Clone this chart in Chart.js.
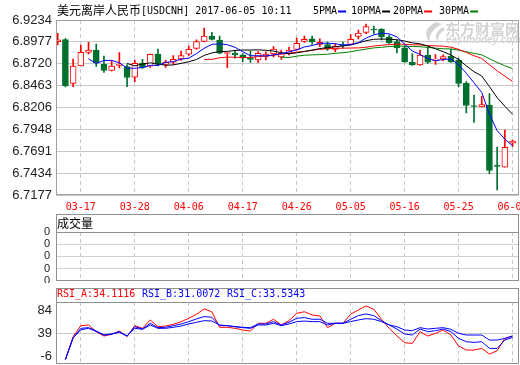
<!DOCTYPE html>
<html><head><meta charset="utf-8">
<script src="https://cdn.jsdelivr.net/npm/chart.js@4.4.1/dist/chart.umd.min.js"></script>
<style>
html,body{margin:0;padding:0;background:#fff;width:520px;height:365px;overflow:hidden}
canvas{position:absolute;left:0}
</style></head><body>
<canvas id="p" width="520" height="216" style="top:0"></canvas>
<canvas id="v" width="520" height="71" style="top:212px"></canvas>
<canvas id="r" width="520" height="81" style="top:284px"></canvas>
<script>
const dates = ['03-14','03-15','03-16','03-17','03-20','03-21','03-22','03-23','03-24','03-27','03-28','03-29','03-30','03-31',
'04-03','04-04','04-05','04-06','04-07','04-10','04-11','04-12','04-13','04-14','04-17','04-18','04-19','04-20','04-21','04-24','04-25','04-26','04-27','04-28',
'05-01','05-02','05-03','05-04','05-05','05-08','05-09','05-10','05-11','05-12','05-15','05-16','05-17','05-18','05-19','05-22','05-23','05-24','05-25','05-26','05-29','05-30','05-31',
'06-01','06-02','06-05'];
const open = [6.8979,6.9005,6.8490,6.8693,6.8854,6.8881,6.8713,6.8640,6.8699,6.8687,6.8561,6.8725,6.8690,6.8834,6.8713,6.8737,6.8776,6.8831,6.8901,6.8981,
6.9046,6.8999,6.8840,6.8846,6.8823,6.8787,6.8764,6.8805,6.8834,6.8799,6.8840,6.8887,6.8981,6.9014,6.8946,6.8946,6.8887,6.8946,6.8946,6.9040,
6.9087,6.9125,6.9125,6.9034,6.8979,6.8908,6.8737,6.8705,6.8823,6.8760,6.8776,6.8807,6.8764,6.8490,6.8229,6.8211,6.8235,6.7526,6.7503,6.7785];
const high = [6.9078,6.9015,6.8776,6.8940,6.8972,6.8952,6.8811,6.8756,6.8852,6.8711,6.8764,6.8772,6.8834,6.8893,6.8764,6.8817,6.8870,6.8931,6.9002,6.9140,
6.9089,6.9046,6.8850,6.8870,6.8840,6.8870,6.8864,6.8861,6.8923,6.8881,6.8917,6.9022,6.9046,6.9046,6.9014,6.8975,6.8958,6.8975,6.9064,6.9116,
6.9187,6.9163,6.9134,6.9058,6.8999,6.8934,6.8840,6.8881,6.8917,6.8829,6.8826,6.8893,6.8787,6.8511,6.8352,6.8341,6.8370,6.7741,6.7941,6.7824];
const low = [6.8940,6.8447,6.8450,6.8693,6.8834,6.8687,6.8619,6.8635,6.8670,6.8450,6.8509,6.8666,6.8678,6.8693,6.8676,6.8711,6.8758,6.8817,6.8890,6.8975,
6.8999,6.8834,6.8673,6.8784,6.8744,6.8734,6.8732,6.8764,6.8799,6.8770,6.8823,6.8881,6.8970,6.8946,6.8920,6.8876,6.8858,6.8905,6.8940,6.9011,
6.9072,6.9069,6.8999,6.8952,6.8846,6.8734,6.8699,6.8699,6.8723,6.8713,6.8752,6.8734,6.8447,6.8141,6.8029,6.8211,6.7424,6.7236,6.7503,6.7747];
const close = [6.9002,6.8458,6.8693,6.8854,6.8881,6.8729,6.8640,6.8693,6.8717,6.8558,6.8725,6.8676,6.8831,6.8711,6.8737,6.8772,6.8817,6.8890,6.8979,6.9046,
6.9007,6.8843,6.8846,6.8823,6.8787,6.8770,6.8843,6.8834,6.8893,6.8846,6.8881,6.8960,6.9007,6.8975,6.8972,6.8893,6.8928,6.8932,6.9007,6.9081,
6.9158,6.9116,6.9034,6.8967,6.8905,6.8740,6.8705,6.8823,6.8737,6.8776,6.8803,6.8740,6.8490,6.8229,6.8217,6.8241,6.7465,6.7514,6.7738,6.7812];
const ma5 = [null,null,null,null,6.8778,6.8723,6.8759,6.8759,6.8732,6.8667,6.8667,6.8674,6.8701,6.8700,6.8736,6.8745,6.8774,6.8785,6.8839,6.8901,
6.8948,6.8953,6.8944,6.8913,6.8861,6.8814,6.8814,6.8811,6.8825,6.8837,6.8859,6.8883,6.8917,6.8934,6.8959,6.8961,6.8955,6.8940,6.8946,6.8968,
6.9021,6.9059,6.9079,6.9071,6.9036,6.8952,6.8870,6.8828,6.8782,6.8756,6.8769,6.8776,6.8709,6.8608,6.8496,6.8383,6.8128,6.7933,6.7835,6.7754];
const ma10 = [null,null,null,null,null,null,null,null,null,6.8723,6.8695,6.8717,6.8730,6.8716,6.8702,6.8706,6.8724,6.8743,6.8770,6.8818,
6.8847,6.8863,6.8865,6.8876,6.8881,6.8881,6.8883,6.8878,6.8869,6.8849,6.8837,6.8848,6.8864,6.8880,6.8898,6.8910,6.8919,6.8929,6.8940,6.8964,
6.8991,6.9007,6.9010,6.9009,6.9002,6.8987,6.8965,6.8954,6.8927,6.8896,6.8861,6.8823,6.8769,6.8695,6.8626,6.8576,6.8452,6.8321,6.8221,6.8125];
const ma20 = [null,null,null,null,null,null,null,null,null,null,null,null,null,null,null,null,null,null,null,6.8771,
6.8771,6.8790,6.8798,6.8796,6.8791,6.8793,6.8804,6.8811,6.8819,6.8834,6.8842,6.8856,6.8865,6.8878,6.8890,6.8896,6.8901,6.8903,6.8905,6.8906,
6.8914,6.8928,6.8937,6.8944,6.8950,6.8949,6.8942,6.8941,6.8933,6.8930,6.8926,6.8915,6.8889,6.8852,6.8814,6.8782,6.8708,6.8637,6.8574,6.8511];
const ma30 = [null,null,null,null,null,null,null,null,null,null,null,null,null,null,null,null,null,null,null,null,
null,null,null,null,null,null,null,null,null,6.8797,6.8793,6.8809,6.8820,6.8824,6.8827,6.8832,6.8842,6.8850,6.8860,6.8877,
6.8892,6.8906,6.8913,6.8922,6.8927,6.8926,6.8922,6.8920,6.8912,6.8903,6.8896,6.8893,6.8881,6.8861,6.8842,6.8824,6.8779,6.8735,6.8696,6.8662];
const volume = [0,0,0,0,0,0,0,0,0,0,0,0,0,0,0,0,0,0,0,0,0,0,0,0,0,0,0,0,0,0,0,0,0,0,0,0,0,0,0,0,0,0,0,0,0,0,0,0,0,0,0,0,0,0,0,0,0,0,0,0];
const rsiA = [null,-13,32.4,54.3,55.6,42.3,33.7,37,43.6,32.4,54.3,49,65.6,52.3,53.6,57,62,69,77,87.6,
81.8,51,51,49,45.6,43.6,59,59,67,55.6,64.2,78.8,82,75.5,73.5,50.3,59,59,77,85.5,
93.5,86.8,67,49,33.7,20.4,19,42.3,33.7,39,45.6,35.7,13.8,5.8,5.8,9.1,-2.2,4.5,29,34.1116];
const rsiB = [null,-13,30,49,50.3,43.6,35.7,37.7,42.3,33.7,52.3,47.6,58.9,50.3,51,54.3,57.6,62.3,67.6,72.3,
71,54.3,54.3,52.3,51,50.3,57.6,57.6,62.3,55.6,61,69,70.3,67,67,59,59,59,67,74.2,
77.6,74.2,64.2,55.6,47.6,37.7,35.7,47.6,42.3,44.3,47.6,42.3,29,22.4,21,22.4,9.1,9.1,25.7,31.0072];
const rsiC = [null,-13,30,46,49,43,35.7,37.7,41,33.7,49,47,55.6,49,49,51,53.6,57.6,61,64.2,
63.5,55.6,54.3,52.3,50.3,49,55.6,55.6,59,54.3,57.6,62.3,63.5,62.3,62.3,55.6,59,59,62.3,65.6,
68.2,67,62.3,55.6,52.3,45.6,44.3,50.3,47.6,49,50.3,47,39,35.7,35.7,35.7,25.7,25.7,29,33.5343];
const priceTicks = [6.7177,6.7434,6.7691,6.7948,6.8206,6.8463,6.8720,6.8977,6.9234];
const xTickIdx = [3,10,17,24,31,38,45,52,59];
const volTicks = [0,1,2,3,4];
const volTickLabels = ['0','0','0','0','0'];
const rsiTicks = [-6,39,84];
const titleCn = '美元离岸人民币';
const titleEn = '[USDCNH] 2017-06-05 10:11';
const rsiHead = [['RSI_A:34.1116','#FF0000'],['RSI_B:31.0072','#0000FF'],['RSI_C:33.5343','#0000FF']];
const maNames = ['5PMA','10PMA','20PMA','30PMA'];

const RED = '#FF0000', GRN = '#00702F';
const MA_COL = ['#0000FF','#000000','#FF0000','#008000'];
const XMIN = -0.22, XMAX = 59.77;
const MONO = "'DejaVu Sans Mono', 'Liberation Mono', monospace";
const CJK = "'Noto Sans CJK SC', sans-serif";
const NUMF = "'Liberation Sans', Arial, sans-serif";
Chart.defaults.animation = false;
Chart.defaults.responsive = false;
Chart.defaults.devicePixelRatio = 1;
Chart.defaults.plugins.legend.display = false;
Chart.defaults.plugins.tooltip.enabled = false;

const up = i => close[i] >= open[i];
const idx = dates.map((d, i) => i);
const pts = arr => arr.map((v, i) => ({x: i, y: v}));
const setX = s => { s.ticks = xTickIdx.map(v => ({value: v})); };
const fitX = h => s => { s.height = h; s.paddingLeft = 0; s.paddingRight = 0; };
const fitY = s => { s.width = 56; s.paddingTop = 0; s.paddingBottom = 0; };
const xGrid = {color: '#C8C8C8', lineWidth: 1, drawTicks: false, offset: false};

function frameRect(ctx, a, top, col) {
  const l = Math.round(a.left) + 0.5, r = Math.round(a.right) - 0.5;
  const t = Math.round(top) + 0.5, b = Math.round(a.bottom) - 0.5;
  ctx.save();
  ctx.strokeStyle = col; ctx.lineWidth = 1;
  ctx.strokeRect(l, t, r - l, b - t);
  ctx.restore();
}

const pricePlugin = {
  id: 'priceDeco',
  beforeDatasetsDraw(chart) {
    const ctx = chart.ctx;
    ctx.save();
    ctx.fillStyle = '#D4D4D4';
    ctx.beginPath();
    ctx.moveTo(436, 22); ctx.quadraticCurveTo(420, 30, 430, 43);
    ctx.quadraticCurveTo(427, 32, 442, 24); ctx.closePath(); ctx.fill();
    ctx.beginPath();
    ctx.moveTo(443, 27); ctx.quadraticCurveTo(432, 34, 438, 42);
    ctx.quadraticCurveTo(437, 34, 445, 30); ctx.closePath(); ctx.fill();
    ctx.font = "bold 15px " + CJK;
    ctx.textBaseline = 'middle';
    ctx.fillText('东方财富网', 445, 29.5);
    ctx.font = "bold italic 10px 'Liberation Sans', sans-serif";
    ctx.fillText('eastmoney.com', 446, 40.5);
    ctx.restore();
  },
  afterDraw(chart) {
    const ctx = chart.ctx, a = chart.chartArea;
    frameRect(ctx, a, a.top, '#A0A0A0');
    ctx.save();
    ctx.textBaseline = 'middle';
    ctx.fillStyle = '#000';
    ctx.font = "12px " + CJK;
    ctx.fillText(titleCn, 57, 10.5);
    ctx.font = "10px " + MONO;
    ctx.fillText(titleEn, 141, 11);
    const xs = [313, 351, 393, 439];
    maNames.forEach((n, k) => {
      ctx.fillStyle = '#000';
      ctx.fillText(n, xs[k], 11);
      const w = ctx.measureText(n).width;
      ctx.fillStyle = MA_COL[k];
      ctx.fillRect(xs[k] + w + 1, 10.5, 8, 2);
    });
    ctx.restore();
  }
};

new Chart(document.getElementById('p'), {
  type: 'bar',
  data: {datasets: [
    {type: 'line', data: pts(ma5), borderColor: MA_COL[0], borderWidth: 1, pointRadius: 0, order: 1},
    {type: 'line', data: pts(ma10), borderColor: MA_COL[1], borderWidth: 1, pointRadius: 0, order: 2},
    {type: 'line', data: pts(ma20), borderColor: MA_COL[2], borderWidth: 1, pointRadius: 0, order: 3},
    {type: 'line', data: pts(ma30), borderColor: MA_COL[3], borderWidth: 1, pointRadius: 0, order: 4},
    {data: idx.map(i => ({x: i, y: [open[i], close[i]]})), grouped: false, barThickness: 6, minBarLength: 1,
     backgroundColor: idx.map(i => up(i) ? '#FFFFFF' : GRN), borderColor: idx.map(i => up(i) ? RED : GRN),
     borderWidth: 1, borderSkipped: false, order: 5},
    {data: idx.map(i => ({x: i, y: [low[i], high[i]]})), grouped: false, barThickness: 1,
     backgroundColor: idx.map(i => up(i) ? RED : GRN), borderWidth: 0, order: 6}
  ]},
  options: {
    layout: {padding: {top: 20, right: 1.5, left: 0, bottom: 0}},
    scales: {
      x: {type: 'linear', min: XMIN, max: XMAX, offset: false, afterBuildTicks: setX, afterFit: fitX(21),
          ticks: {color: '#FF0000', font: {family: MONO, size: 10}, padding: 6, maxRotation: 0, autoSkip: false,
                  callback: v => dates[v]},
          grid: xGrid, border: {display: false, dash: [4, 3]}},
      y: {min: 6.7177, max: 6.9234,
          afterBuildTicks: s => { s.ticks = priceTicks.map(v => ({value: v})); },
          afterFit: fitY,
          ticks: {color: '#222', font: {family: NUMF, size: 13}, padding: 4, autoSkip: false, callback: v => v.toFixed(4)},
          grid: {color: '#C8C8C8', drawTicks: false}, border: {display: false}}
    }
  },
  plugins: [pricePlugin]
});

const panelPlugin = (head, draw) => ({
  id: 'panel',
  afterDraw(chart) {
    const ctx = chart.ctx, a = chart.chartArea;
    frameRect(ctx, a, a.top - head, '#909090');
    ctx.save();
    ctx.strokeStyle = '#909090'; ctx.lineWidth = 1;
    ctx.beginPath();
    const y = Math.round(a.top) + 0.5;
    ctx.moveTo(Math.round(a.left), y); ctx.lineTo(Math.round(a.right), y); ctx.stroke();
    draw(ctx, a);
    ctx.restore();
  }
});

new Chart(document.getElementById('v'), {
  type: 'bar',
  data: {datasets: [{data: pts(volume), grouped: false, barThickness: 6, backgroundColor: GRN}]},
  options: {
    layout: {padding: {top: 20, right: 1.5, left: 0, bottom: 2.3}},
    scales: {
      x: {type: 'linear', min: XMIN, max: XMAX, offset: false, afterBuildTicks: setX, afterFit: fitX(0),
          ticks: {display: false}, grid: xGrid, border: {display: false, dash: [4, 3]}},
      y: {min: 0, max: 4, afterBuildTicks: s => { s.ticks = volTicks.map(v => ({value: v})); },
          afterFit: fitY,
          ticks: {color: '#222', font: {family: "'Liberation Sans', Arial, sans-serif", size: 11}, padding: 6,
                  autoSkip: false, callback: (v, i) => volTickLabels[i]},
          grid: {color: '#D0D0D0', drawTicks: false}, border: {display: false}}
    }
  },
  plugins: [panelPlugin(18, (ctx, a) => {
    ctx.fillStyle = '#000';
    ctx.font = "12px " + CJK;
    ctx.textBaseline = 'middle';
    ctx.fillText('成交量', 57, a.top - 9);
  })]
});

new Chart(document.getElementById('r'), {
  type: 'line',
  data: {datasets: [
    {data: pts(rsiA), borderColor: '#FF0000', borderWidth: 1, pointRadius: 0, order: 3},
    {data: pts(rsiB), borderColor: '#0000FF', borderWidth: 1, pointRadius: 0, order: 2},
    {data: pts(rsiC), borderColor: '#0000FF', borderWidth: 1, pointRadius: 0, order: 1}
  ]},
  options: {
    layout: {padding: {top: 18, right: 1.5, left: 0, bottom: 1}},
    scales: {
      x: {type: 'linear', min: XMIN, max: XMAX, offset: false, afterBuildTicks: setX, afterFit: fitX(0),
          ticks: {display: false}, grid: xGrid, border: {display: false, dash: [4, 3]}},
      y: {min: -21.9, max: 101.3, afterBuildTicks: s => { s.ticks = rsiTicks.map(v => ({value: v})); },
          afterFit: fitY,
          ticks: {color: '#222', font: {family: NUMF, size: 13}, padding: 4, autoSkip: false},
          grid: {color: c => (c.tick && c.tick.value === 39) ? '#C8C8C8' : 'rgba(0,0,0,0)', drawTicks: false},
          border: {display: false}}
    }
  },
  plugins: [panelPlugin(14.5, (ctx, a) => {
    ctx.font = "10px " + MONO;
    ctx.textBaseline = 'middle';
    const xs = [57, 142, 227];
    rsiHead.forEach((h, k) => { ctx.fillStyle = h[1]; ctx.fillText(h[0], xs[k], a.top - 7.5); });
  })]
});
</script>
</body></html>
